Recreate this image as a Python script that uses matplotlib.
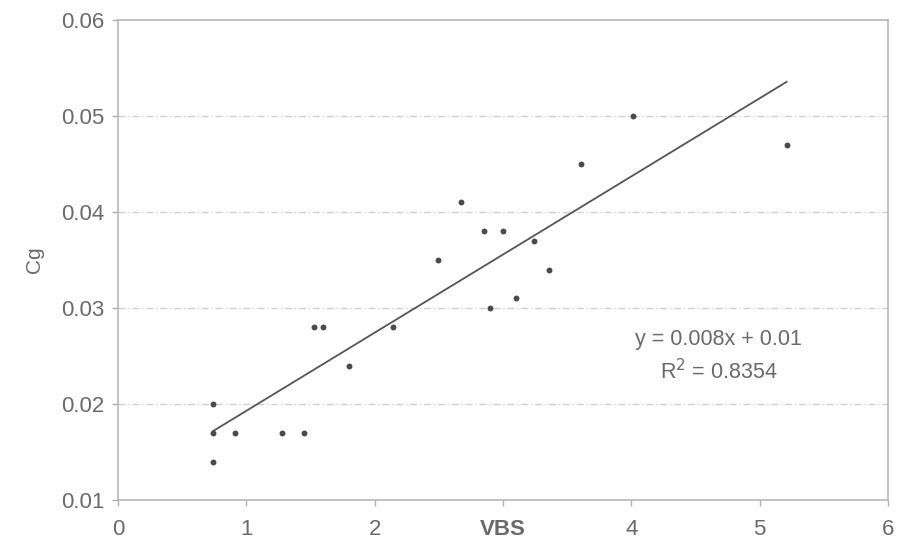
import numpy as np
import matplotlib
matplotlib.use("Agg")
import matplotlib.pyplot as plt

# values
vbs = [0.74, 0.74, 0.74, 0.91, 1.28, 1.45, 1.53, 1.60, 1.80, 2.14, 2.49,
       2.67, 2.85, 2.90, 3.00, 3.10, 3.24, 3.36, 3.61, 4.01, 5.21]
cg = [0.017, 0.020, 0.014, 0.017, 0.017, 0.017, 0.028, 0.028, 0.024, 0.028, 0.035,
      0.041, 0.038, 0.030, 0.038, 0.031, 0.037, 0.034, 0.045, 0.050, 0.047]

x_ticks = [0, 1, 2, 3, 4, 5, 6]
x_labels = ["0", "1", "2", "VBS", "4", "5", "6"]
y_ticks = [0.01, 0.02, 0.03, 0.04, 0.05, 0.06]
y_labels = ["0.01", "0.02", "0.03", "0.04", "0.05", "0.06"]
eq_text = "y = 0.008x + 0.01"
r2_text = "R$^2$ = 0.8354"

plt.rcParams["font.family"] = ["Liberation Sans", "DejaVu Sans"]
txt_col = "#6a6a6a"

fig = plt.figure(figsize=(8.98, 5.5), dpi=100)
ax = fig.add_axes([118 / 898, 50 / 550, 770 / 898, 480 / 550])

ax.set_xlim(0, 6)
ax.set_ylim(0.01, 0.06)

# dashed horizontal grid
for yv in y_ticks[1:-1]:
    ax.axhline(yv, color="#d0d0d0", lw=1.0, ls=(0, (5, 2, 1, 2)), zorder=0)

ax.scatter(vbs, cg, s=18, color="#4a4a4a", zorder=3, linewidths=0)

# linear trend line over the data range
slope, icpt = np.polyfit(vbs, cg, 1)
xs = np.array([min(vbs), max(vbs)])
ax.plot(xs, slope * xs + icpt, color="#555555", lw=1.3, zorder=2)

ax.text(4.68, 0.0267, eq_text, fontsize=15.5, color=txt_col, ha="center", va="center")
ax.text(4.68, 0.0234, r2_text, fontsize=15.5, color=txt_col, ha="center", va="center")

ax.set_xticks(x_ticks)
ax.set_xticklabels(x_labels)
ax.set_yticks(y_ticks)
ax.set_yticklabels(y_labels)
for lab in ax.get_xticklabels():
    if lab.get_text() == "VBS":
        lab.set_fontweight("bold")
ax.tick_params(axis="both", labelsize=16, labelcolor=txt_col, color="#b0b0b0",
               length=4, width=1, direction="out")
ax.tick_params(axis="x", pad=10)
ax.tick_params(axis="y", pad=6)

ax.set_ylabel("Cg", fontsize=15, color=txt_col, labelpad=12)

for sp in ax.spines.values():
    sp.set_color("#b8b8b8")
    sp.set_linewidth(1.2)

fig.savefig("out.png", dpi=100, facecolor="white")
